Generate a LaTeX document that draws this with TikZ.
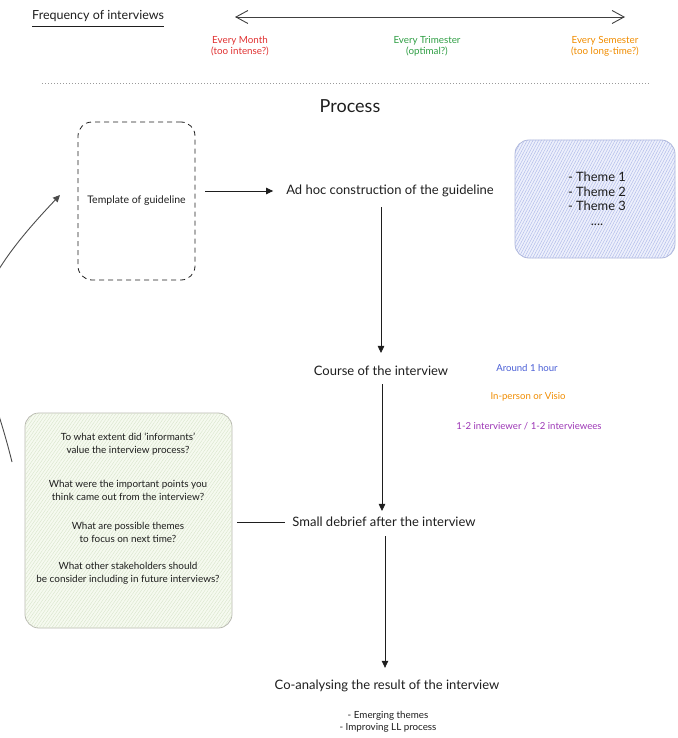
\documentclass[tikz,border=0pt]{standalone}
\usepackage{fontspec}
\setmainfont{Lato}
\usetikzlibrary{arrows.meta,patterns.meta}

\definecolor{ink}{HTML}{1E1E1E}
\definecolor{redtxt}{HTML}{E03131}
\definecolor{greentxt}{HTML}{2F9E44}
\definecolor{orangetxt}{HTML}{F08C00}
\definecolor{bluetxt}{HTML}{4A5FD6}
\definecolor{purpletxt}{HTML}{9C36B5}
\definecolor{bluefill}{HTML}{EDF0FC}
\definecolor{bluehatch}{HTML}{B3BDEA}
\definecolor{blueedge}{HTML}{B0B8DA}
\definecolor{greenfill}{HTML}{F6FAF0}
\definecolor{greenhatch}{HTML}{DAE6CD}
\definecolor{greenedge}{HTML}{B8B8B0}
\definecolor{dotgray}{HTML}{9A9A9A}

\begin{document}
\begin{tikzpicture}[x=1pt,y=-1pt,
  every node/.style={text=ink,inner sep=0pt},
  label/.style={font=\fontsize{13}{15}\selectfont},
  small/.style={font=\fontsize{9.8}{11}\selectfont,align=center},
  note/.style={font=\fontsize{9.6}{11}\selectfont},
  flow/.style={draw=ink,line width=0.8pt,-{Triangle[length=7pt,width=6.5pt]}},
  plain/.style={draw=ink,line width=0.8pt},
  sketchbox/.style={rounded corners=14pt,line width=0.8pt}
]
\useasboundingbox (0,0) rectangle (677,738);

% header: interview frequency scale
\node[font=\fontsize{12.5}{14}\selectfont,anchor=west] (freq) at (32,16) {Frequency of interviews};
\draw[ink,line width=1.3pt] ([yshift=-5pt]freq.south west) -- ([yshift=-5pt]freq.south east);
\coordinate (scaleL) at (235,17);
\coordinate (scaleR) at (625,17);
\draw[ink!85,line width=0.9pt,{Straight Barb[length=12pt,width=13pt]}-{Straight Barb[length=12pt,width=13pt]}] (scaleL) -- (scaleR);

\node[small,text=redtxt] (month) at (240,46) {Every Month\\(too intense?)};
\node[small,text=greentxt] (trim) at (427,46) {Every Trimester\\(optimal?)};
\node[small,text=orangetxt] (sem) at (605,46) {Every Semester\\(too long-time?)};

\coordinate (sepL) at (42,83);
\coordinate (sepR) at (650,83);
\draw[dotgray,line width=0.8pt,dash pattern=on 1pt off 2pt] (sepL) -- (sepR);

\node[font=\fontsize{18}{20}\selectfont] (process) at (350,106) {Process};

% process steps
\node[draw=ink,dash pattern=on 5pt off 4pt,sketchbox,minimum width=117pt,minimum height=158pt,font=\fontsize{10.5}{12}\selectfont] (tmpl) at (136.5,201) {Template of guideline};
\node[label] (adhoc) at (390,191) {Ad hoc construction of the guideline};
\node[label] (course) at (381,371) {Course of the interview};
\node[label] (debrief) at (384,522) {Small debrief after the interview};
\node[label] (coanal) at (387,686) {Co-analysing the result of the interview};

\draw[flow] ([xshift=10pt]tmpl.east |- adhoc.west) -- ([xshift=-13pt]adhoc.west);
\draw[flow] ([yshift=-10pt]course.north |- adhoc.south) -- ([yshift=13pt]course.north);
\draw[flow] ([xshift=1pt,yshift=-8pt]course.south) -- ([xshift=1pt,yshift=6pt]course.south |- debrief.north);
\draw[flow] ([xshift=1pt,yshift=-9pt]debrief.south) -- ([xshift=1pt,yshift=12pt]debrief.south |- coanal.north);

% themes box
\node[draw=blueedge,fill=bluefill,sketchbox,minimum width=160pt,minimum height=118pt,
  postaction={pattern={Lines[angle=62,distance=2.5pt,line width=0.5pt]},pattern color=bluehatch}] (themes) at (595,199) {};
\node[font=\fontsize{12.9}{14.5}\selectfont,align=center] (themetxt) at (597,199) {- Theme 1\\- Theme 2\\- Theme 3\\....};

% interview details
\node[note,text=bluetxt] (hour) at (527,368) {Around 1 hour};
\node[note,text=orangetxt] (mode) at (528,397) {In-person or Visio};
\node[note,text=purpletxt] (people) at (529,426) {1-2 interviewer / 1-2 interviewees};

% debrief questions
\node[draw=greenedge,fill=greenfill,sketchbox,minimum width=207pt,minimum height=215pt,
  postaction={pattern={Lines[angle=55,distance=2.6pt,line width=0.45pt]},pattern color=greenhatch}] (questions) at (128.5,520.5) {};
\node[font=\fontsize{9.9}{13}\selectfont,align=center] (qtxt) at (128,509)
  {To what extent did `informants'\\value the interview process?\\[21pt]
   What were the important points you\\think came out from the interview?\\[16pt]
   What are possible themes\\to focus on next time?\\[14pt]
   What other stakeholders should\\be consider including in future interviews?};
\draw[plain] ([xshift=5pt]questions.east |- debrief.west) -- ([xshift=-7pt]debrief.west);

% outcomes of co-analysis
\node[font=\fontsize{9.8}{12}\selectfont,align=center] (outcomes) at (388,722) {- Emerging themes\\- Improving LL process};

% feedback loop back to the template
\coordinate (loopstart) at (12,462);
\coordinate (loopend) at (60,195);
\begin{scope}
\clip (0,0) rectangle (677,738);
\draw[ink!80,line width=0.9pt,-{Triangle[length=7pt,width=6.5pt]}] (loopstart) .. controls (-18,340) and (-60,321) .. (loopend);
\end{scope}
\end{tikzpicture}
\end{document}
